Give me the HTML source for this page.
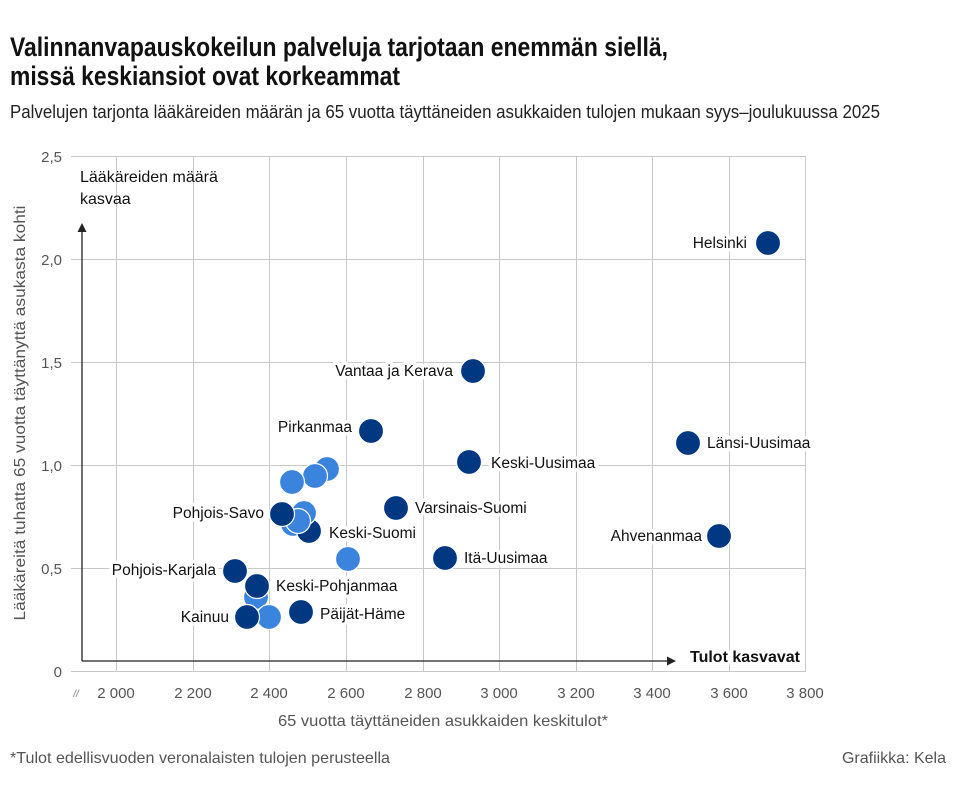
<!DOCTYPE html>
<html><head><meta charset="utf-8"><style>
html,body{margin:0;padding:0;background:#fff;}
svg{display:block;font-family:"Liberation Sans Narrow","Liberation Sans",sans-serif;}
.t{fill:#555;font-size:15px;}
.l{fill:#111;font-size:15.5px;stroke:#fff;stroke-width:7px;paint-order:stroke;stroke-linejoin:round;}
.d{fill:#003781;stroke:#fff;stroke-width:1.2;}
.b{fill:#3b84dd;stroke:#fff;stroke-width:1.2;}
.g{stroke:#c8c8c8;stroke-width:1;}
</style></head><body>
<svg width="960" height="789" viewBox="0 0 960 789">
<text x="10" y="56" font-size="27" font-weight="bold" fill="#111" textLength="658" lengthAdjust="spacingAndGlyphs">Valinnanvapauskokeilun palveluja tarjotaan enemmän siellä,</text>
<text x="10" y="85" font-size="27" font-weight="bold" fill="#111" textLength="390" lengthAdjust="spacingAndGlyphs">missä keskiansiot ovat korkeammat</text>
<text x="10" y="118" font-size="18" fill="#222" textLength="870" lengthAdjust="spacingAndGlyphs">Palvelujen tarjonta lääkäreiden määrän ja 65 vuotta täyttäneiden asukkaiden tulojen mukaan syys–joulukuussa 2025</text>

<g class="g">
<line x1="71" y1="156.5" x2="806" y2="156.5"/>
<line x1="71" y1="259.5" x2="806" y2="259.5"/>
<line x1="71" y1="362.5" x2="806" y2="362.5"/>
<line x1="71" y1="465.5" x2="806" y2="465.5"/>
<line x1="71" y1="568.5" x2="806" y2="568.5"/>
<line x1="71" y1="671.5" x2="806" y2="671.5"/>
<line x1="116.5" y1="156" x2="116.5" y2="671"/>
<line x1="193.5" y1="156" x2="193.5" y2="671"/>
<line x1="269.5" y1="156" x2="269.5" y2="671"/>
<line x1="346.5" y1="156" x2="346.5" y2="671"/>
<line x1="423.5" y1="156" x2="423.5" y2="671"/>
<line x1="499.5" y1="156" x2="499.5" y2="671"/>
<line x1="576.5" y1="156" x2="576.5" y2="671"/>
<line x1="652.5" y1="156" x2="652.5" y2="671"/>
<line x1="729.5" y1="156" x2="729.5" y2="671"/>
<line x1="805.5" y1="156" x2="805.5" y2="671"/>
</g>

<g class="t" text-anchor="end">
<text x="62" y="162">2,5</text><text x="62" y="265">2,0</text><text x="62" y="368">1,5</text>
<text x="62" y="471">1,0</text><text x="62" y="574">0,5</text><text x="62" y="677">0</text>
</g>
<g class="t" text-anchor="middle">
<text x="116" y="698">2 000</text><text x="193" y="698">2 200</text><text x="269" y="698">2 400</text>
<text x="346" y="698">2 600</text><text x="423" y="698">2 800</text><text x="499" y="698">3 000</text>
<text x="576" y="698">3 200</text><text x="652" y="698">3 400</text><text x="729" y="698">3 800</text>
</g>
<text x="729" y="698" class="t" text-anchor="middle" fill="#fff" stroke="#fff" stroke-width="8">3 600</text>
<text x="729" y="698" class="t" text-anchor="middle">3 600</text>
<text x="805" y="698" class="t" text-anchor="middle">3 800</text>
<text x="76" y="697" font-size="10" fill="#777" text-anchor="middle" font-style="italic">//</text>

<text x="443" y="726" font-size="16" fill="#555" text-anchor="middle" textLength="330" lengthAdjust="spacingAndGlyphs">65 vuotta täyttäneiden asukkaiden keskitulot*</text>
<text transform="translate(25,413) rotate(-90)" font-size="16" fill="#555" text-anchor="middle" textLength="415" lengthAdjust="spacingAndGlyphs">Lääkäreitä tuhatta 65 vuotta täyttänyttä asukasta kohti</text>

<line x1="82" y1="661" x2="82" y2="230" stroke="#222" stroke-width="1.3"/>
<polygon points="82,223 77.5,232 86.5,232" fill="#222"/>
<line x1="82" y1="661" x2="667" y2="661" stroke="#222" stroke-width="1.3"/>
<polygon points="676,661 667,656.5 667,665.5" fill="#222"/>
<text x="80" y="182" font-size="16" fill="#111">Lääkäreiden määrä</text>
<text x="80" y="204" font-size="16" fill="#111">kasvaa</text>
<text x="690" y="662" font-size="16" font-weight="bold" fill="#111" stroke="#fff" stroke-width="6" paint-order="stroke">Tulot kasvavat</text>

<g>
<circle class="b" cx="327" cy="469" r="12.5"/>
<circle class="b" cx="315" cy="476" r="12.5"/>
<circle class="b" cx="292" cy="482" r="12.5"/>
<circle class="b" cx="348" cy="559" r="12.5"/>
<circle class="b" cx="256" cy="597" r="12.5"/>
<circle class="b" cx="269" cy="617" r="12.5"/>
<circle class="b" cx="293" cy="524" r="12.5"/>
<circle class="d" cx="309" cy="531" r="12.5"/>
<circle class="b" cx="304" cy="513" r="12.5"/>
<circle class="b" cx="298" cy="521" r="12.5"/>
<circle class="d" cx="282" cy="514" r="12.5"/>
<circle class="d" cx="768" cy="243" r="12.5"/>
<circle class="d" cx="473" cy="371" r="12.5"/>
<circle class="d" cx="371" cy="431" r="12.5"/>
<circle class="d" cx="688" cy="443" r="12.5"/>
<circle class="d" cx="469" cy="462" r="12.5"/>
<circle class="d" cx="396" cy="508" r="12.5"/>
<circle class="d" cx="719" cy="536" r="12.5"/>
<circle class="d" cx="445" cy="558" r="12.5"/>
<circle class="d" cx="235" cy="571" r="12.5"/>
<circle class="d" cx="257" cy="586" r="12.5"/>
<circle class="d" cx="301" cy="612" r="12.5"/>
<circle class="d" cx="247" cy="617" r="12.5"/>
</g>

<g class="l">
<text x="747" y="248" text-anchor="end">Helsinki</text>
<text x="453" y="376" text-anchor="end">Vantaa ja Kerava</text>
<text x="352" y="432" text-anchor="end">Pirkanmaa</text>
<text x="707" y="448">Länsi-Uusimaa</text>
<text x="491" y="468">Keski-Uusimaa</text>
<text x="415" y="513">Varsinais-Suomi</text>
<text x="702" y="541" text-anchor="end">Ahvenanmaa</text>
<text x="464" y="563">Itä-Uusimaa</text>
<text x="264" y="518" text-anchor="end">Pohjois-Savo</text>
<text x="329" y="538">Keski-Suomi</text>
<text x="216" y="575" text-anchor="end">Pohjois-Karjala</text>
<text x="276" y="591">Keski-Pohjanmaa</text>
<text x="320" y="619">Päijät-Häme</text>
<text x="229" y="622" text-anchor="end">Kainuu</text>
</g>

<text x="10" y="763" font-size="16" fill="#555" textLength="380" lengthAdjust="spacingAndGlyphs">*Tulot edellisvuoden veronalaisten tulojen perusteella</text>
<text x="946" y="763" font-size="16" fill="#555" text-anchor="end">Grafiikka: Kela</text>
</svg>
</body></html>
